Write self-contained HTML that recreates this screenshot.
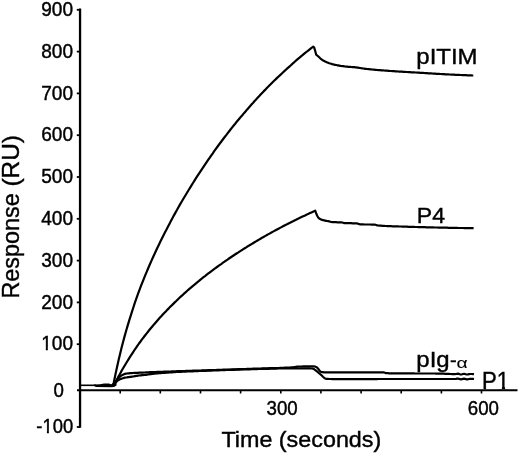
<!DOCTYPE html>
<html lang="en">
<head>
<meta charset="utf-8">
<title>Response (RU) vs Time (seconds)</title>
<style>
html,body{margin:0;padding:0;background:#fff;}
body{width:520px;height:454px;overflow:hidden;font-family:"Liberation Sans",Arial,Helvetica,sans-serif;}
</style>
</head>
<body>
<svg width="520" height="454" viewBox="0 0 520 454" style="display:block">
<rect width="520" height="454" fill="#fff"/>
<g stroke="#000" fill="none" stroke-linecap="butt">
<line x1="80.05" y1="8.6" x2="80.05" y2="427.8" stroke-width="2.3"/>
<line x1="77" y1="390.3" x2="517.5" y2="390.3" stroke-width="2"/>
<line x1="76.8" y1="9.8" x2="80" y2="9.8" stroke-width="1.8"/>
<line x1="76.8" y1="51.6" x2="80" y2="51.6" stroke-width="1.8"/>
<line x1="76.8" y1="93.4" x2="80" y2="93.4" stroke-width="1.8"/>
<line x1="76.8" y1="135.2" x2="80" y2="135.2" stroke-width="1.8"/>
<line x1="76.8" y1="177.0" x2="80" y2="177.0" stroke-width="1.8"/>
<line x1="76.8" y1="218.8" x2="80" y2="218.8" stroke-width="1.8"/>
<line x1="76.8" y1="260.6" x2="80" y2="260.6" stroke-width="1.8"/>
<line x1="76.8" y1="302.4" x2="80" y2="302.4" stroke-width="1.8"/>
<line x1="76.8" y1="344.2" x2="80" y2="344.2" stroke-width="1.8"/>
<line x1="76.8" y1="427" x2="80" y2="427" stroke-width="1.8"/>
<line x1="120.2" y1="390" x2="120.2" y2="393.5" stroke-width="1.6"/>
<line x1="160.3" y1="390" x2="160.3" y2="393.5" stroke-width="1.6"/>
<line x1="200.5" y1="390" x2="200.5" y2="393.5" stroke-width="1.6"/>
<line x1="240.6" y1="390" x2="240.6" y2="393.5" stroke-width="1.6"/>
<line x1="280.8" y1="390" x2="280.8" y2="393.5" stroke-width="1.6"/>
<line x1="320.9" y1="390" x2="320.9" y2="393.5" stroke-width="1.6"/>
<line x1="361.1" y1="390" x2="361.1" y2="393.5" stroke-width="1.6"/>
<line x1="401.2" y1="390" x2="401.2" y2="393.5" stroke-width="1.6"/>
<line x1="441.4" y1="390" x2="441.4" y2="393.5" stroke-width="1.6"/>
<line x1="481.5" y1="390" x2="481.5" y2="393.5" stroke-width="1.6"/>
</g>
<g stroke="#000" fill="none" stroke-width="2.2" stroke-linejoin="round" stroke-linecap="butt">
<path d="M113.3,385.5 L114.0,381.5 L115.5,374.1 L117.0,367.2 L118.5,360.5 L120.0,354.2 L121.5,348.1 L123.0,342.2 L124.5,336.6 L126.0,331.3 L127.5,326.1 L129.0,321.1 L130.5,316.3 L132.0,311.6 L133.5,307.0 L134.9,302.6 L136.4,298.4 L137.9,294.2 L139.4,290.2 L140.9,286.2 L142.4,282.4 L143.9,278.6 L145.4,274.9 L146.9,271.3 L148.4,267.8 L149.9,264.3 L151.4,260.9 L152.9,257.5 L154.4,254.2 L155.9,251.0 L157.4,247.8 L158.9,244.7 L160.4,241.6 L161.9,238.6 L163.4,235.6 L164.9,232.6 L166.4,229.7 L167.9,226.8 L169.4,223.9 L170.9,221.1 L172.4,218.3 L173.8,215.6 L175.3,212.9 L176.8,210.2 L178.3,207.5 L179.8,204.9 L181.3,202.3 L182.8,199.7 L184.3,197.2 L185.8,194.7 L187.3,192.2 L188.8,189.7 L190.3,187.3 L191.8,184.9 L193.3,182.5 L194.8,180.1 L196.3,177.7 L197.8,175.4 L199.3,173.1 L200.8,170.8 L202.3,168.6 L203.8,166.3 L205.3,164.1 L206.8,161.9 L208.3,159.7 L209.8,157.6 L211.3,155.4 L212.8,153.3 L214.2,151.2 L215.7,149.1 L217.2,147.0 L218.7,145.0 L220.2,143.0 L221.7,141.0 L223.2,139.0 L224.7,137.0 L226.2,135.1 L227.7,133.1 L229.2,131.2 L230.7,129.3 L232.2,127.4 L233.7,125.5 L235.2,123.7 L236.7,121.8 L238.2,120.0 L239.7,118.2 L241.2,116.4 L242.7,114.7 L244.2,112.9 L245.7,111.2 L247.2,109.4 L248.7,107.7 L250.2,106.0 L251.7,104.3 L253.2,102.7 L254.6,101.0 L256.1,99.4 L257.6,97.8 L259.1,96.2 L260.6,94.6 L262.1,93.0 L263.6,91.4 L265.1,89.9 L266.6,88.3 L268.1,86.8 L269.6,85.3 L271.1,83.8 L272.6,82.3 L274.1,80.8 L275.6,79.4 L277.1,77.9 L278.6,76.5 L280.1,75.1 L281.6,73.7 L283.1,72.3 L284.6,70.9 L286.1,69.5 L287.6,68.1 L289.1,66.8 L290.6,65.5 L292.1,64.1 L293.5,62.8 L295.0,61.5 L296.5,60.2 L298.0,58.9 L299.5,57.7 L301.0,56.4 L302.5,55.2 L304.0,53.9 L305.5,52.7 L307.0,51.5 L308.5,50.3 L310.0,49.1 L311.5,47.9 L313.0,46.8 L313.2,46.6 L314.2,47.6 L315.2,51.0 L316.2,54.6 L317.2,55.5 L318.2,56.3 L319.2,57.2 L320.2,58.2 L321.2,59.1 L322.2,59.8 L323.2,60.5 L324.2,61.0 L325.2,61.6 L326.2,62.0 L327.2,62.4 L328.2,62.8 L329.2,63.2 L330.2,63.5 L331.2,63.8 L332.2,64.1 L333.2,64.3 L334.2,64.6 L335.2,64.8 L336.2,65.0 L337.2,65.3 L338.2,65.4 L339.2,65.6 L340.2,65.8 L341.2,66.0 L342.2,66.1 L343.2,66.2 L344.2,66.3 L345.2,66.5 L346.2,66.6 L347.2,66.7 L348.2,66.8 L349.2,66.8 L350.2,66.9 L351.2,67.0 L352.2,67.1 L353.2,67.1 L354.2,67.2 L355.2,67.3 L356.2,67.4 L357.2,67.6 L358.2,67.7 L359.2,67.9 L360.2,68.0 L361.2,68.2 L362.2,68.3 L363.2,68.5 L364.2,68.6 L365.2,68.8 L366.2,68.9 L367.2,69.0 L368.2,69.1 L369.2,69.2 L370.2,69.3 L371.2,69.4 L372.2,69.5 L373.2,69.6 L374.2,69.7 L375.2,69.8 L376.2,69.9 L377.2,70.0 L378.2,70.1 L379.2,70.1 L380.2,70.2 L381.2,70.3 L382.2,70.4 L383.2,70.4 L384.2,70.5 L385.2,70.6 L386.2,70.7 L387.2,70.7 L388.2,70.8 L389.2,70.9 L390.2,71.0 L391.2,71.0 L392.2,71.1 L393.2,71.2 L394.2,71.2 L395.2,71.3 L396.2,71.4 L397.2,71.4 L398.2,71.5 L399.2,71.6 L400.2,71.6 L401.2,71.7 L402.2,71.7 L403.2,71.8 L404.2,71.9 L405.2,71.9 L406.2,72.0 L407.2,72.0 L408.2,72.1 L409.2,72.1 L410.2,72.2 L411.2,72.3 L412.2,72.3 L413.2,72.4 L414.2,72.4 L415.2,72.5 L416.2,72.5 L417.2,72.6 L418.2,72.6 L419.2,72.7 L420.2,72.8 L421.2,72.8 L422.2,72.9 L423.2,72.9 L424.2,73.0 L425.2,73.1 L426.2,73.1 L427.2,73.2 L428.2,73.3 L429.2,73.3 L430.2,73.4 L431.2,73.4 L432.2,73.5 L433.2,73.6 L434.2,73.6 L435.2,73.7 L436.2,73.8 L437.2,73.8 L438.2,73.9 L439.2,73.9 L440.2,74.0 L441.2,74.0 L442.2,74.1 L443.2,74.2 L444.2,74.2 L445.2,74.3 L446.2,74.3 L447.2,74.4 L448.2,74.4 L449.2,74.5 L450.2,74.5 L451.2,74.6 L452.2,74.6 L453.2,74.7 L454.2,74.7 L455.2,74.8 L456.2,74.8 L457.2,74.9 L458.2,74.9 L459.2,74.9 L460.2,75.0 L461.2,75.0 L462.2,75.1 L463.2,75.1 L464.2,75.2 L465.2,75.2 L466.2,75.2 L467.2,75.3 L468.2,75.3 L469.2,75.4 L470.2,75.4 L471.2,75.4 L472.2,75.5 L473.2,75.5 L473.3,75.5"/>
<path d="M112.5,385.2 L115.3,382.8 L116.5,380.3 L118.0,377.4 L119.5,374.7 L121.0,371.9 L122.5,369.3 L124.0,366.7 L125.5,364.2 L127.0,361.7 L128.5,359.3 L130.0,356.9 L131.5,354.6 L133.0,352.3 L134.5,350.0 L136.0,347.8 L137.5,345.7 L139.0,343.5 L140.5,341.5 L142.0,339.4 L143.5,337.5 L145.0,335.5 L146.5,333.6 L148.0,331.7 L149.5,329.8 L151.0,328.0 L152.5,326.2 L154.0,324.4 L155.5,322.7 L157.0,321.0 L158.5,319.3 L160.0,317.6 L161.5,316.0 L163.0,314.3 L164.5,312.7 L166.0,311.2 L167.5,309.6 L169.0,308.1 L170.5,306.5 L172.0,305.1 L173.5,303.6 L175.0,302.1 L176.5,300.7 L178.0,299.2 L179.5,297.8 L181.0,296.4 L182.5,295.1 L184.0,293.7 L185.5,292.4 L187.0,291.0 L188.5,289.7 L190.0,288.4 L191.5,287.1 L193.0,285.8 L194.5,284.6 L196.0,283.3 L197.5,282.1 L199.0,280.9 L200.5,279.6 L202.0,278.4 L203.5,277.2 L205.0,276.1 L206.5,274.9 L208.0,273.7 L209.5,272.6 L211.0,271.5 L212.5,270.3 L214.0,269.2 L215.5,268.1 L217.0,267.0 L218.5,265.9 L220.0,264.8 L221.5,263.8 L223.0,262.7 L224.5,261.7 L226.0,260.6 L227.5,259.6 L229.0,258.5 L230.5,257.5 L232.0,256.5 L233.5,255.5 L235.0,254.5 L236.5,253.5 L238.0,252.6 L239.5,251.6 L241.0,250.6 L242.5,249.7 L244.0,248.7 L245.5,247.8 L247.0,246.8 L248.5,245.9 L250.0,245.0 L251.5,244.1 L253.0,243.2 L254.5,242.3 L256.0,241.4 L257.5,240.5 L259.0,239.6 L260.5,238.7 L262.0,237.8 L263.5,237.0 L265.0,236.1 L266.5,235.3 L268.0,234.4 L269.5,233.6 L271.0,232.8 L272.5,231.9 L274.0,231.1 L275.5,230.3 L277.0,229.5 L278.5,228.7 L280.0,227.9 L281.5,227.1 L283.0,226.3 L284.5,225.5 L286.0,224.7 L287.5,224.0 L289.0,223.2 L290.5,222.5 L292.0,221.7 L293.5,221.0 L295.0,220.2 L296.5,219.5 L298.0,218.7 L299.5,218.0 L301.0,217.3 L302.5,216.6 L304.0,215.9 L305.5,215.2 L307.0,214.4 L308.5,213.8 L310.0,213.1 L311.5,212.4 L313.0,211.7 L314.5,211.0 L315.2,210.7 L316.2,213.5 L317.2,215.7 L318.2,217.5 L319.2,218.5 L320.2,219.1 L321.2,219.6 L322.2,219.9 L323.2,220.2 L324.2,220.4 L325.2,220.6 L326.2,220.8 L327.2,221.0 L328.2,221.2 L329.2,221.4 L330.2,221.7 L331.2,222.0 L332.2,222.1 L333.2,222.2 L334.2,222.2 L335.2,222.2 L336.2,222.2 L337.2,222.3 L338.2,222.3 L339.2,222.3 L340.2,222.3 L341.2,222.4 L342.2,222.5 L343.2,222.8 L344.2,223.1 L345.2,223.1 L346.2,223.2 L347.2,223.2 L348.2,223.2 L349.2,223.2 L350.2,223.2 L351.2,223.2 L352.2,223.3 L353.2,223.3 L354.2,223.3 L355.2,223.3 L356.2,223.4 L357.2,223.4 L358.2,223.8 L359.2,224.2 L360.2,224.3 L361.2,224.4 L362.2,224.4 L363.2,224.4 L364.2,224.5 L365.2,224.5 L366.2,224.5 L367.2,224.5 L368.2,224.5 L369.2,224.5 L370.2,224.5 L371.2,224.6 L372.2,224.6 L373.2,224.6 L374.2,224.7 L375.2,224.7 L376.2,225.0 L377.2,225.4 L378.2,225.5 L379.2,225.6 L380.2,225.6 L381.2,225.7 L382.2,225.8 L383.2,225.9 L384.2,225.9 L385.2,226.0 L386.2,226.0 L387.2,226.1 L388.2,226.1 L389.2,226.2 L390.2,226.2 L391.2,226.2 L392.2,226.3 L393.2,226.3 L394.2,226.3 L395.2,226.3 L396.2,226.4 L397.2,226.4 L398.2,226.4 L399.2,226.5 L400.2,226.5 L401.2,226.5 L402.2,226.6 L403.2,226.6 L404.2,226.6 L405.2,226.7 L406.2,226.7 L407.2,226.7 L408.2,226.8 L409.2,226.8 L410.2,226.8 L411.2,226.9 L412.2,226.9 L413.2,226.9 L414.2,226.9 L415.2,227.0 L416.2,227.0 L417.2,227.0 L418.2,227.1 L419.2,227.1 L420.2,227.1 L421.2,227.1 L422.2,227.2 L423.2,227.2 L424.2,227.2 L425.2,227.2 L426.2,227.3 L427.2,227.3 L428.2,227.3 L429.2,227.3 L430.2,227.4 L431.2,227.4 L432.2,227.4 L433.2,227.4 L434.2,227.5 L435.2,227.5 L436.2,227.5 L437.2,227.5 L438.2,227.6 L439.2,227.6 L440.2,227.6 L441.2,227.6 L442.2,227.6 L443.2,227.7 L444.2,227.7 L445.2,227.7 L446.2,227.7 L447.2,227.7 L448.2,227.8 L449.2,227.8 L450.2,227.8 L451.2,227.8 L452.2,227.8 L453.2,227.9 L454.2,227.9 L455.2,227.9 L456.2,227.9 L457.2,227.9 L458.2,228.0 L459.2,228.0 L460.2,228.0 L461.2,228.0 L462.2,228.0 L463.2,228.0 L464.2,228.1 L465.2,228.1 L466.2,228.1 L467.2,228.1 L468.2,228.1 L469.2,228.1 L470.2,228.2 L471.2,228.2 L472.2,228.2 L473.2,228.2 L473.6,228.2"/>
<path d="M112.5,385.2 L115.0,382.5 L116.0,381.1 L117.0,379.8 L118.0,378.6 L119.0,377.5 L120.0,376.6 L121.0,375.9 L122.0,375.2 L123.0,374.7 L124.0,374.2 L125.0,373.9 L126.0,373.7 L127.0,373.5 L128.0,373.4 L129.0,373.3 L130.0,373.2 L131.0,373.1 L132.0,373.1 L133.0,373.0 L134.0,372.9 L135.0,372.9 L136.0,372.8 L137.0,372.8 L138.0,372.8 L139.0,372.7 L140.0,372.7 L141.0,372.7 L142.0,372.6 L143.0,372.6 L144.0,372.5 L145.0,372.5 L146.0,372.4 L147.0,372.4 L148.0,372.3 L149.0,372.3 L150.0,372.2 L151.0,372.2 L152.0,372.1 L153.0,372.1 L154.0,372.0 L155.0,372.0 L156.0,372.0 L157.0,371.9 L158.0,371.9 L159.0,371.9 L160.0,371.9 L161.0,371.8 L162.0,371.8 L163.0,371.8 L164.0,371.7 L165.0,371.7 L166.0,371.7 L167.0,371.6 L168.0,371.6 L169.0,371.5 L170.0,371.5 L171.0,371.5 L172.0,371.4 L173.0,371.4 L174.0,371.3 L175.0,371.3 L176.0,371.3 L177.0,371.2 L178.0,371.2 L179.0,371.2 L180.0,371.1 L181.0,371.1 L182.0,371.1 L183.0,371.0 L184.0,371.0 L185.0,371.0 L186.0,370.9 L187.0,370.9 L188.0,370.9 L189.0,370.8 L190.0,370.8 L191.0,370.8 L192.0,370.8 L193.0,370.7 L194.0,370.7 L195.0,370.7 L196.0,370.6 L197.0,370.6 L198.0,370.6 L199.0,370.5 L200.0,370.5 L201.0,370.5 L202.0,370.4 L203.0,370.4 L204.0,370.4 L205.0,370.3 L206.0,370.3 L207.0,370.3 L208.0,370.2 L209.0,370.2 L210.0,370.2 L211.0,370.1 L212.0,370.1 L213.0,370.1 L214.0,370.0 L215.0,370.0 L216.0,370.0 L217.0,369.9 L218.0,369.9 L219.0,369.9 L220.0,369.8 L221.0,369.8 L222.0,369.8 L223.0,369.7 L224.0,369.7 L225.0,369.7 L226.0,369.6 L227.0,369.6 L228.0,369.6 L229.0,369.5 L230.0,369.5 L231.0,369.5 L232.0,369.4 L233.0,369.4 L234.0,369.4 L235.0,369.3 L236.0,369.3 L237.0,369.3 L238.0,369.2 L239.0,369.2 L240.0,369.2 L241.0,369.1 L242.0,369.1 L243.0,369.1 L244.0,369.0 L245.0,369.0 L246.0,369.0 L247.0,368.9 L248.0,368.9 L249.0,368.9 L250.0,368.8 L251.0,368.8 L252.0,368.8 L253.0,368.7 L254.0,368.7 L255.0,368.7 L256.0,368.6 L257.0,368.6 L258.0,368.6 L259.0,368.5 L260.0,368.5 L261.0,368.5 L262.0,368.4 L263.0,368.4 L264.0,368.4 L265.0,368.3 L266.0,368.3 L267.0,368.3 L268.0,368.3 L269.0,368.2 L270.0,368.2 L271.0,368.2 L272.0,368.2 L273.0,368.1 L274.0,368.1 L275.0,368.1 L276.0,368.0 L277.0,368.0 L278.0,368.0 L279.0,368.0 L280.0,367.9 L281.0,367.9 L282.0,367.9 L283.0,367.8 L284.0,367.8 L285.0,367.7 L286.0,367.7 L287.0,367.6 L288.0,367.6 L289.0,367.5 L290.0,367.5 L291.0,367.4 L292.0,367.3 L293.0,367.3 L294.0,367.2 L295.0,367.1 L296.0,366.8 L297.0,366.6 L298.0,366.5 L299.0,366.5 L300.0,366.5 L301.0,366.5 L302.0,366.5 L303.0,366.4 L304.0,366.4 L305.0,366.4 L306.0,366.4 L307.0,366.4 L308.0,366.4 L309.0,366.4 L310.0,366.4 L311.0,366.4 L312.0,366.4 L313.0,366.4 L314.0,366.4 L315.0,366.5 L316.0,366.9 L317.0,367.5 L318.0,368.5 L319.0,369.9 L320.0,371.2 L321.0,371.9 L322.0,372.1 L323.0,372.2 L324.0,372.3 L325.0,372.4 L326.0,372.4 L327.0,372.4 L328.0,372.4 L329.0,372.4 L330.0,372.4 L331.0,372.4 L332.0,372.4 L333.0,372.4 L334.0,372.4 L335.0,372.4 L336.0,372.4 L337.0,372.4 L338.0,372.4 L339.0,372.4 L340.0,372.4 L341.0,372.4 L342.0,372.4 L343.0,372.4 L344.0,372.4 L345.0,372.4 L346.0,372.4 L347.0,372.4 L348.0,372.4 L349.0,372.4 L350.0,372.4 L351.0,372.4 L352.0,372.4 L353.0,372.4 L354.0,372.4 L355.0,372.4 L356.0,372.4 L357.0,372.4 L358.0,372.4 L359.0,372.4 L360.0,372.4 L361.0,372.4 L362.0,372.4 L363.0,372.4 L364.0,372.4 L365.0,372.4 L366.0,372.4 L367.0,372.4 L368.0,372.4 L369.0,372.4 L370.0,372.4 L371.0,372.4 L372.0,372.4 L373.0,372.4 L374.0,372.4 L375.0,372.4 L376.0,372.4 L377.0,372.4 L378.0,372.4 L379.0,372.4 L380.0,372.4 L381.0,372.4 L382.0,372.4 L383.0,372.4 L384.0,372.4 L385.0,372.8 L386.0,373.2 L387.0,373.2 L388.0,373.2 L389.0,373.3 L390.0,373.3 L391.0,373.3 L392.0,373.3 L393.0,373.3 L394.0,373.3 L395.0,373.3 L396.0,373.4 L397.0,373.4 L398.0,373.4 L399.0,373.4 L400.0,373.4 L401.0,373.4 L402.0,373.4 L403.0,373.4 L404.0,373.4 L405.0,373.4 L406.0,373.4 L407.0,373.4 L408.0,373.4 L409.0,373.4 L410.0,373.4 L411.0,373.4 L412.0,373.4 L413.0,373.4 L414.0,373.4 L415.0,373.5 L416.0,373.5 L417.0,373.5 L418.0,373.5 L419.0,373.5 L420.0,373.5 L421.0,373.5 L422.0,373.5 L423.0,373.5 L424.0,373.5 L425.0,373.5 L426.0,373.5 L427.0,373.5 L428.0,373.5 L429.0,373.5 L430.0,373.5 L431.0,373.5 L432.0,373.5 L433.0,373.5 L434.0,373.5 L435.0,373.5 L436.0,373.6 L437.0,373.6 L438.0,373.6 L439.0,373.6 L440.0,373.6 L441.0,373.6 L442.0,373.6 L443.0,373.7 L444.0,373.7 L445.0,373.8 L446.0,373.8 L447.0,373.9 L448.0,373.9 L449.0,373.9 L450.0,374.0 L451.0,374.0 L452.0,374.1 L453.0,374.1 L454.0,374.1 L455.0,374.1 L456.0,374.0 L457.0,373.8 L458.0,373.7 L459.0,373.9 L460.0,374.3 L461.0,374.5 L462.0,374.3 L463.0,374.0 L464.0,373.8 L465.0,374.0 L466.0,374.3 L467.0,374.5 L468.0,374.4 L469.0,374.1 L470.0,374.0 L471.0,374.0 L472.0,374.0 L473.0,374.1 L474.0,374.2"/>
<path d="M112.5,385.2 L115.0,383.4 L116.0,382.2 L117.0,381.2 L118.0,380.4 L119.0,379.8 L120.0,379.3 L121.0,378.9 L122.0,378.5 L123.0,378.2 L124.0,377.9 L125.0,377.7 L126.0,377.5 L127.0,377.4 L128.0,377.2 L129.0,377.1 L130.0,376.9 L131.0,376.8 L132.0,376.6 L133.0,376.5 L134.0,376.3 L135.0,376.1 L136.0,375.9 L137.0,375.8 L138.0,375.6 L139.0,375.5 L140.0,375.4 L141.0,375.3 L142.0,375.2 L143.0,375.1 L144.0,375.0 L145.0,374.9 L146.0,374.8 L147.0,374.6 L148.0,374.5 L149.0,374.3 L150.0,374.2 L151.0,374.1 L152.0,373.9 L153.0,373.8 L154.0,373.7 L155.0,373.6 L156.0,373.5 L157.0,373.4 L158.0,373.3 L159.0,373.2 L160.0,373.2 L161.0,373.1 L162.0,373.0 L163.0,372.9 L164.0,372.9 L165.0,372.8 L166.0,372.7 L167.0,372.7 L168.0,372.6 L169.0,372.5 L170.0,372.4 L171.0,372.4 L172.0,372.3 L173.0,372.2 L174.0,372.2 L175.0,372.1 L176.0,372.0 L177.0,372.0 L178.0,371.9 L179.0,371.9 L180.0,371.8 L181.0,371.8 L182.0,371.7 L183.0,371.7 L184.0,371.7 L185.0,371.6 L186.0,371.6 L187.0,371.5 L188.0,371.5 L189.0,371.4 L190.0,371.4 L191.0,371.4 L192.0,371.3 L193.0,371.3 L194.0,371.2 L195.0,371.2 L196.0,371.2 L197.0,371.1 L198.0,371.1 L199.0,371.0 L200.0,371.0 L201.0,371.0 L202.0,370.9 L203.0,370.9 L204.0,370.8 L205.0,370.8 L206.0,370.8 L207.0,370.7 L208.0,370.7 L209.0,370.6 L210.0,370.6 L211.0,370.6 L212.0,370.5 L213.0,370.5 L214.0,370.5 L215.0,370.4 L216.0,370.4 L217.0,370.4 L218.0,370.3 L219.0,370.3 L220.0,370.2 L221.0,370.2 L222.0,370.2 L223.0,370.1 L224.0,370.1 L225.0,370.1 L226.0,370.0 L227.0,370.0 L228.0,370.0 L229.0,369.9 L230.0,369.9 L231.0,369.9 L232.0,369.8 L233.0,369.8 L234.0,369.8 L235.0,369.7 L236.0,369.7 L237.0,369.7 L238.0,369.6 L239.0,369.6 L240.0,369.6 L241.0,369.5 L242.0,369.5 L243.0,369.5 L244.0,369.4 L245.0,369.4 L246.0,369.4 L247.0,369.4 L248.0,369.3 L249.0,369.3 L250.0,369.3 L251.0,369.2 L252.0,369.2 L253.0,369.2 L254.0,369.2 L255.0,369.1 L256.0,369.1 L257.0,369.1 L258.0,369.0 L259.0,369.0 L260.0,369.0 L261.0,369.0 L262.0,369.0 L263.0,368.9 L264.0,368.9 L265.0,368.9 L266.0,368.8 L267.0,368.8 L268.0,368.8 L269.0,368.8 L270.0,368.7 L271.0,368.7 L272.0,368.7 L273.0,368.7 L274.0,368.6 L275.0,368.6 L276.0,368.6 L277.0,368.6 L278.0,368.5 L279.0,368.5 L280.0,368.5 L281.0,368.5 L282.0,368.5 L283.0,368.4 L284.0,368.4 L285.0,368.4 L286.0,368.4 L287.0,368.4 L288.0,368.4 L289.0,368.3 L290.0,368.3 L291.0,368.3 L292.0,368.3 L293.0,368.3 L294.0,368.3 L295.0,368.3 L296.0,368.3 L297.0,368.3 L298.0,368.3 L299.0,368.3 L300.0,368.3 L301.0,368.3 L302.0,368.3 L303.0,368.3 L304.0,368.3 L305.0,368.4 L306.0,368.4 L307.0,368.4 L308.0,368.4 L309.0,368.4 L310.0,368.4 L311.0,368.5 L312.0,368.5 L313.0,368.7 L314.0,369.1 L315.0,369.8 L316.0,370.6 L317.0,371.4 L318.0,372.3 L319.0,373.2 L320.0,374.0 L321.0,374.8 L322.0,375.8 L323.0,376.8 L324.0,377.7 L325.0,378.4 L326.0,378.8 L327.0,378.8 L328.0,378.9 L329.0,379.0 L330.0,379.0 L331.0,379.0 L332.0,379.1 L333.0,379.1 L334.0,379.1 L335.0,379.1 L336.0,379.1 L337.0,379.1 L338.0,379.1 L339.0,379.1 L340.0,379.1 L341.0,379.1 L342.0,379.1 L343.0,379.1 L344.0,379.1 L345.0,379.1 L346.0,379.1 L347.0,379.1 L348.0,379.1 L349.0,379.1 L350.0,379.1 L351.0,379.1 L352.0,379.1 L353.0,379.1 L354.0,379.1 L355.0,379.1 L356.0,379.1 L357.0,379.1 L358.0,379.1 L359.0,379.1 L360.0,379.1 L361.0,379.1 L362.0,379.1 L363.0,379.1 L364.0,379.1 L365.0,379.1 L366.0,379.1 L367.0,379.1 L368.0,379.1 L369.0,379.1 L370.0,379.1 L371.0,379.1 L372.0,379.1 L373.0,379.1 L374.0,379.1 L375.0,379.1 L376.0,379.1 L377.0,379.1 L378.0,379.0 L379.0,379.0 L380.0,379.0 L381.0,379.0 L382.0,379.0 L383.0,379.0 L384.0,379.0 L385.0,379.0 L386.0,379.0 L387.0,379.0 L388.0,379.0 L389.0,379.0 L390.0,379.0 L391.0,379.0 L392.0,379.0 L393.0,379.0 L394.0,379.0 L395.0,379.0 L396.0,379.0 L397.0,379.0 L398.0,379.0 L399.0,379.0 L400.0,379.0 L401.0,379.0 L402.0,379.0 L403.0,379.0 L404.0,379.0 L405.0,379.0 L406.0,379.0 L407.0,379.0 L408.0,379.0 L409.0,379.0 L410.0,379.0 L411.0,379.0 L412.0,379.0 L413.0,379.0 L414.0,379.0 L415.0,379.0 L416.0,379.0 L417.0,379.0 L418.0,379.0 L419.0,379.0 L420.0,379.0 L421.0,379.0 L422.0,379.0 L423.0,379.0 L424.0,379.0 L425.0,379.0 L426.0,379.0 L427.0,379.0 L428.0,379.0 L429.0,379.0 L430.0,379.0 L431.0,379.0 L432.0,379.0 L433.0,379.0 L434.0,379.0 L435.0,379.0 L436.0,379.0 L437.0,379.0 L438.0,379.0 L439.0,379.0 L440.0,379.0 L441.0,379.0 L442.0,379.0 L443.0,379.0 L444.0,379.0 L445.0,379.0 L446.0,379.0 L447.0,379.0 L448.0,379.0 L449.0,379.0 L450.0,379.0 L451.0,379.0 L452.0,379.0 L453.0,379.0 L454.0,379.0 L455.0,379.0 L456.0,378.9 L457.0,378.7 L458.0,378.6 L459.0,378.8 L460.0,379.2 L461.0,379.4 L462.0,379.2 L463.0,378.9 L464.0,378.7 L465.0,378.9 L466.0,379.2 L467.0,379.4 L468.0,379.3 L469.0,379.0 L470.0,378.9 L471.0,378.9 L472.0,378.9 L473.0,378.9 L474.0,379.0"/>
<path d="M80,385.3 L96,385.3" stroke-width="1.6"/>
<path d="M94,384.5 L100,384.2 L104,383.5 L109,383.6 L111,384.2 L114,383.6 L116.5,383.2 L116.5,385.5 L114,387 L111,387.2 L96,387 L94,386.1 Z" fill="#000" stroke="none"/>
</g>
<g font-family="'Liberation Sans', Arial, Helvetica, sans-serif" fill="#000" stroke="#000" stroke-width="0.4">
<g font-size="18.7">
<text transform="translate(73.0,15.9) scale(1.02,1.05)" text-anchor="end">900</text>
<text transform="translate(73.0,57.7) scale(1.02,1.05)" text-anchor="end">800</text>
<text transform="translate(73.0,99.5) scale(1.02,1.05)" text-anchor="end">700</text>
<text transform="translate(73.0,141.3) scale(1.02,1.05)" text-anchor="end">600</text>
<text transform="translate(73.0,183.1) scale(1.02,1.05)" text-anchor="end">500</text>
<text transform="translate(73.0,224.9) scale(1.02,1.05)" text-anchor="end">400</text>
<text transform="translate(73.0,266.7) scale(1.02,1.05)" text-anchor="end">300</text>
<text transform="translate(73.0,308.5) scale(1.02,1.05)" text-anchor="end">200</text>
<text transform="translate(73.0,350.3) scale(1.02,1.05)" text-anchor="end">100</text>
<text transform="translate(63.8,397.0) scale(1.0,1.05)" text-anchor="end">0</text>
<text transform="translate(73.2,432.5) scale(0.985,1.05)" text-anchor="end">-100</text>
<g stroke="none" fill="#fff"><rect x="41" y="347.7" width="4.8" height="3.6"/><rect x="47.85" y="347.7" width="4.2" height="3.6"/><rect x="42" y="430.7" width="4.9" height="3.6"/><rect x="48.9" y="430.7" width="4.2" height="3.6"/></g>
<text transform="translate(282.1,414.8) scale(1.0,1.05)" text-anchor="middle">300</text>
<text transform="translate(483.4,414.8) scale(1.0,1.05)" text-anchor="middle">600</text>
</g>
<text transform="translate(221.4,446.9) scale(1.051,1.0)" font-size="22.2">Time (seconds)</text>
<text transform="translate(19,298.6) rotate(-90) scale(1.0,1.0)" font-size="23.4">Response</text>
<text transform="translate(19,186.6) rotate(-90) scale(1.045,1.0)" font-size="23.4">(RU)</text>
<text transform="translate(416.3,64.3) scale(1.09,1.0)" font-size="22">pITIM</text>
<text transform="translate(416.8,223.1) scale(1.02,1.0)" font-size="22.6">P4</text>
<text transform="translate(416.3,367.2) scale(1.075,1.0)" font-size="22.3">pIg</text>
<text transform="translate(450.1,367.4) scale(1.0,1.0)" font-size="20">-</text>
<text transform="translate(456.6,367.6) scale(1.33,1.0)" font-size="14.5" stroke-width="0.1">α</text>
<text transform="translate(481.9,389.4) scale(0.985,1.04)" font-size="22.5">P1</text>
<g stroke="none"><rect x="496.5" y="386.4" width="5.4" height="2.6" fill="#fff"/><rect x="505.1" y="386.4" width="5" height="2.6" fill="#fff"/></g>
</g>
</svg>
</body>
</html>
